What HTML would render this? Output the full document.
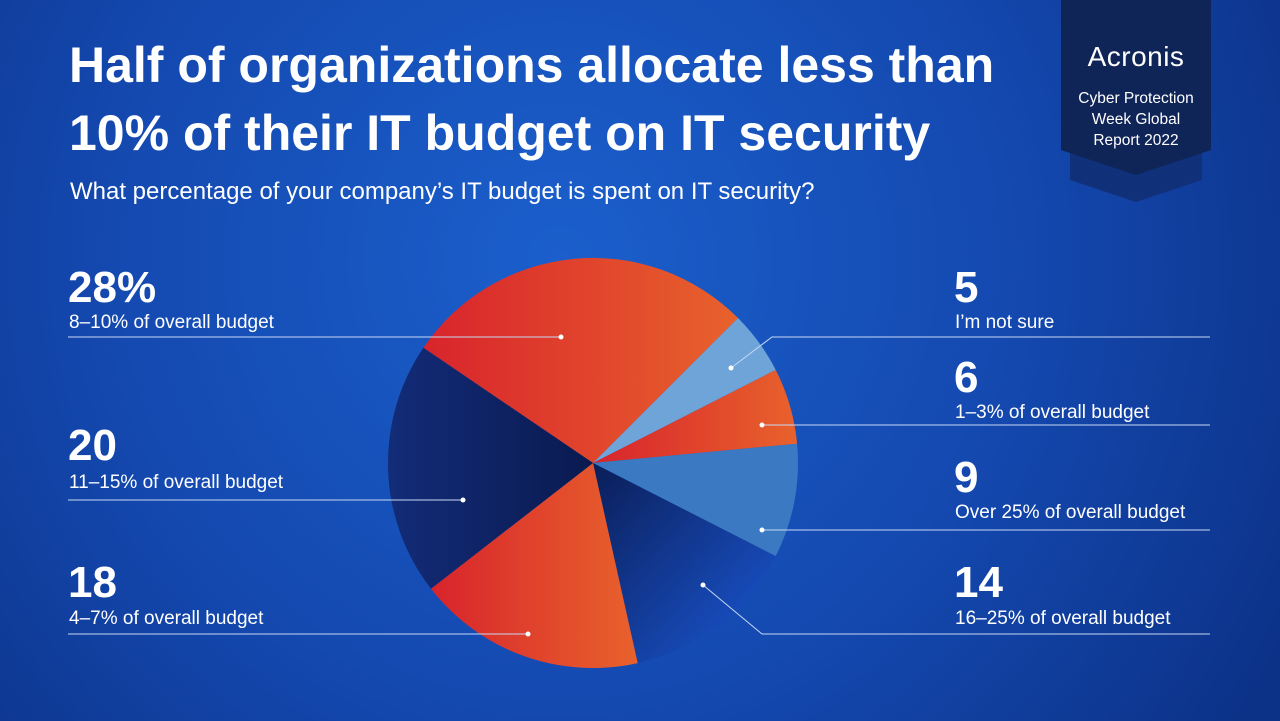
<!DOCTYPE html>
<html><head><meta charset="utf-8"><style>
html,body{margin:0;padding:0;width:1280px;height:721px;overflow:hidden}
svg{display:block}
text{font-family:"Liberation Sans",sans-serif;fill:#fff}
</style></head><body>
<svg width="1280" height="721" viewBox="0 0 1280 721" xmlns="http://www.w3.org/2000/svg">
<defs>
<radialGradient id="bg" cx="560" cy="260" r="820" gradientUnits="userSpaceOnUse">
<stop offset="0" stop-color="#1b5fcc"/><stop offset="0.55" stop-color="#1449b0"/><stop offset="1" stop-color="#0c3288"/>
</radialGradient>
<linearGradient id="ro" x1="0" y1="0" x2="1" y2="0"><stop offset="0" stop-color="#d8242c"/><stop offset="1" stop-color="#e8622c"/></linearGradient>
<linearGradient id="nv" x1="0" y1="0" x2="1" y2="1"><stop offset="0" stop-color="#0b1e58"/><stop offset="1" stop-color="#1a58d6"/></linearGradient>
<linearGradient id="nv2" x1="0" y1="0" x2="1" y2="0"><stop offset="0" stop-color="#132c78"/><stop offset="1" stop-color="#0a1a50"/></linearGradient>
</defs>
<rect width="1280" height="721" fill="url(#bg)"/>
<polygon points="1070,140 1202,140 1202,180 1136,202 1070,180" fill="#11307a"/>
<polygon points="1061,0 1211,0 1211,150 1136,175 1061,150" fill="#0f2457"/>
<text x="1136" y="66" font-size="28" text-anchor="middle" letter-spacing="0.5">Acronis</text>
<text x="1136" y="103" font-size="15.5" text-anchor="middle">Cyber Protection</text>
<text x="1136" y="124" font-size="15.5" text-anchor="middle">Week Global</text>
<text x="1136" y="145" font-size="15.5" text-anchor="middle">Report 2022</text>
<text x="69" y="82" font-size="50" font-weight="bold">Half of organizations allocate less than</text>
<text x="69" y="150" font-size="50" font-weight="bold">10% of their IT budget on IT security</text>
<text x="70" y="199" font-size="24">What percentage of your company’s IT budget is spent on IT security?</text>
<path d="M593,463 L423.4,347.8 A205,205 0 0 1 738,318 Z" fill="url(#ro)"/>
<path d="M593,463 L738,318 A205,205 0 0 1 775.7,369.9 Z" fill="#6ea4d8"/>
<path d="M593,463 L775.7,369.9 A205,205 0 0 1 797.1,443.7 Z" fill="url(#ro)"/>
<path d="M593,463 L797.1,443.7 A205,205 0 0 1 775.7,556.1 Z" fill="#3b7ac2"/>
<path d="M593,463 L775.7,556.1 A205,205 0 0 1 637.7,663.1 Z" fill="url(#nv)"/>
<path d="M593,463 L637.7,663.1 A205,205 0 0 1 431,588.7 Z" fill="url(#ro)"/>
<path d="M593,463 L431,588.7 A205,205 0 0 1 423.4,347.8 Z" fill="url(#nv2)"/>
<g stroke="#c8d8f4" stroke-width="1" fill="none">
<line x1="68" y1="337" x2="561" y2="337"/>
<line x1="68" y1="500" x2="463" y2="500"/>
<line x1="68" y1="634" x2="528" y2="634"/>
<polyline points="731,368 772,337 1210,337"/>
<line x1="762" y1="425" x2="1210" y2="425"/>
<line x1="762" y1="530" x2="1210" y2="530"/>
<polyline points="703,585 762,634 1210,634"/>
</g>
<g fill="#fff">
<circle cx="561" cy="337" r="2.5"/><circle cx="463" cy="500" r="2.5"/><circle cx="528" cy="634" r="2.5"/>
<circle cx="731" cy="368" r="2.5"/><circle cx="762" cy="425" r="2.5"/><circle cx="762" cy="530" r="2.5"/><circle cx="703" cy="585" r="2.5"/>
</g>
<g font-weight="bold" font-size="44">
<text x="68" y="302">28%</text><text x="68" y="460">20</text><text x="68" y="597">18</text>
<text x="954" y="302">5</text><text x="954" y="392">6</text><text x="954" y="492">9</text><text x="954" y="597">14</text>
</g>
<g font-size="19">
<text x="69" y="328">8–10% of overall budget</text>
<text x="69" y="488">11–15% of overall budget</text>
<text x="69" y="624">4–7% of overall budget</text>
<text x="955" y="328">I’m not sure</text>
<text x="955" y="418">1–3% of overall budget</text>
<text x="955" y="518">Over 25% of overall budget</text>
<text x="955" y="624">16–25% of overall budget</text>
</g>
</svg>
</body></html>
